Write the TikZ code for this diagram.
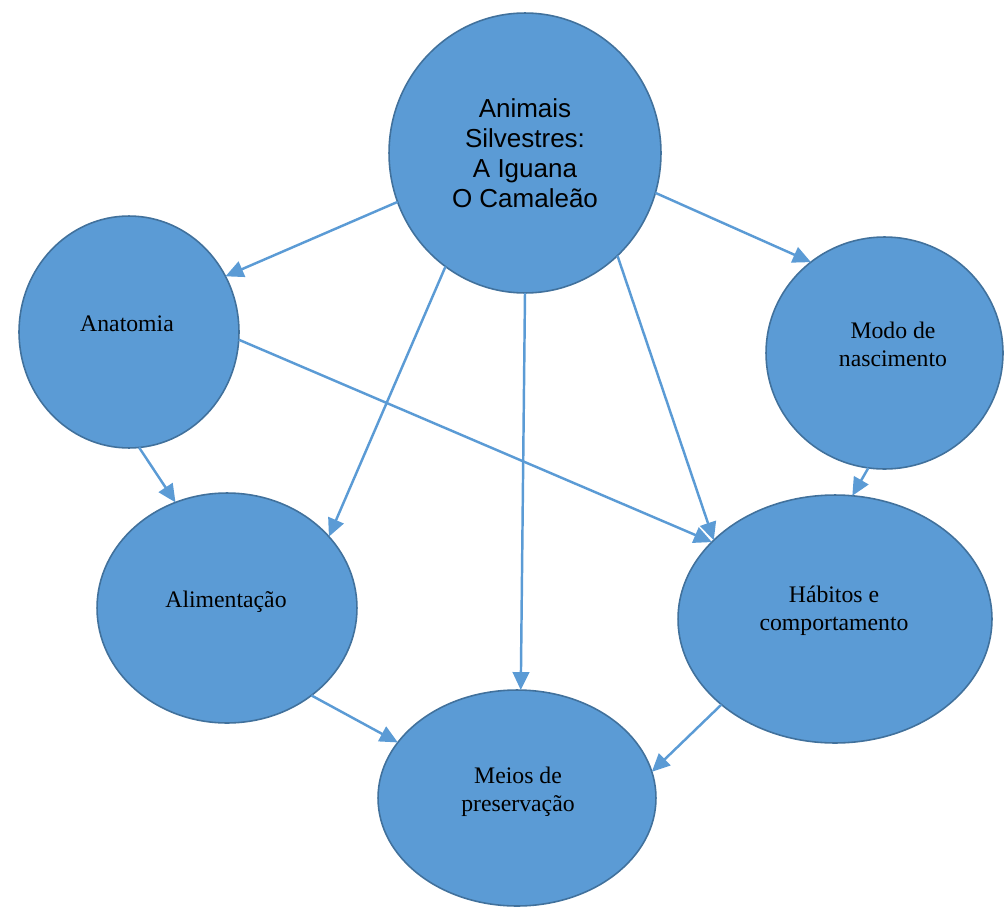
\documentclass[tikz,border=0pt]{standalone}
\usepackage{fontspec}
\setmainfont{Liberation Serif}
\newfontfamily\arialf{Liberation Sans}
\usetikzlibrary{arrows.meta,shapes.geometric}
\definecolor{blobfill}{HTML}{5B9BD5}
\definecolor{blobline}{HTML}{41719C}
\definecolor{arr}{HTML}{5B9BD5}
\begin{document}
\begin{tikzpicture}[x=0.02cm,y=-0.02cm,
 blob/.style={ellipse,draw=blobline,fill=blobfill,line width=0.9pt,inner sep=0pt,outer sep=0pt},
 lbl/.style={align=center,font=\fontsize{13.5}{16}\selectfont,inner sep=0pt},
 toplbl/.style={align=center,font=\arialf\fontsize{14.8}{17}\selectfont,inner sep=0pt},
 link/.style={draw=arr,line width=1.4pt,-{Triangle[length=3.6mm,width=3.3mm]}}]
\useasboundingbox (0,0) rectangle (1004,906);
\node[blob,minimum width=5.44cm,minimum height=5.6cm] (top) at (525,153) {};
\node[blob,minimum width=4.4cm,minimum height=4.64cm] (ana) at (129,332) {};
\node[blob,minimum width=4.74cm,minimum height=4.64cm] (modo) at (884.5,353) {};
\node[blob,minimum width=5.2cm,minimum height=4.6cm] (ali) at (227,608) {};
\node[blob,minimum width=6.28cm,minimum height=4.96cm] (hab) at (835,619) {};
\node[blob,minimum width=5.56cm,minimum height=4.32cm] (mei) at (517,798) {};

\node[toplbl] (ttop) at (525,153) {Animais\\Silvestres:\\A Iguana\\O Camaleão};
\node[lbl] (tana) at (127,324) {Anatomia};
\node[lbl] (tmodo) at (893,344) {Modo de\\nascimento};
\node[lbl] (tali) at (226,602) {Alimentação};
\node[lbl] (thab) at (834,611) {Hábitos e\\comportamento};
\node[lbl] (tmei) at (518,792) {Meios de\\preservação};

\draw[link] (top.201.5) -- (ana.30.4);
\draw[link] (top.235.5) -- (ali.35.9);
\draw[link] (top.270.8) -- (mei.88.9);
\draw[link] (top.312.1) -- (hab.147.9);
\draw[link] (top.343) -- (modo.129.6);
\draw[link] (ana.275.9) -- (ali.116);
\draw[link] (ana.356.9) -- (hab.148.2);
\draw[link] (modo.262) -- (hab.82.2);
\draw[link] (ali.314.3) -- (mei.155.8);
\draw[link] (hab.217.6) -- (mei.11.7);
\end{tikzpicture}
\end{document}
